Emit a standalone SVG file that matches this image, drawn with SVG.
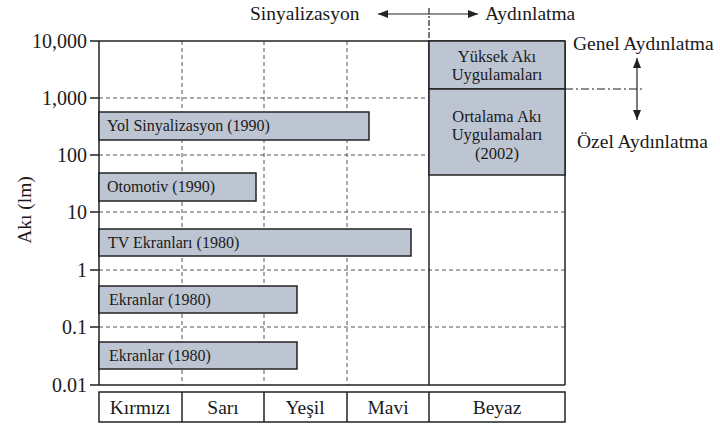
<svg xmlns="http://www.w3.org/2000/svg" width="720" height="427" viewBox="0 0 720 427" font-family="'Liberation Serif', 'DejaVu Serif', serif">
<defs>
<style>
text{font-family:'Liberation Serif','DejaVu Serif',serif;fill:#1a1a1a}
.big{font-size:19.5px}
.tick{font-size:20px;text-anchor:end}
.bar{fill:#bec5d2;stroke:#222;stroke-width:1.5}
.bt{font-size:16px}
.bx{font-size:16.5px;text-anchor:middle}
.grid{stroke:#555;stroke-width:1;stroke-dasharray:4 3;fill:none}
.solid{stroke:#222;stroke-width:1.5;fill:none}
.leg{font-size:19.5px;text-anchor:middle}
</style>
<marker id="ah" viewBox="0 0 10 8" refX="10" refY="4" markerWidth="10" markerHeight="8" markerUnits="userSpaceOnUse" orient="auto-start-reverse">
<path d="M0,0 L10,4 L0,8 Z" fill="#222"/>
</marker>
</defs>
<rect width="720" height="427" fill="#fff"/>

<g id="grid">
<line class="grid" x1="99" y1="98" x2="565" y2="98"/>
<line class="grid" x1="99" y1="155" x2="565" y2="155"/>
<line class="grid" x1="99" y1="212" x2="565" y2="212"/>
<line class="grid" x1="99" y1="270" x2="565" y2="270"/>
<line class="grid" x1="99" y1="327" x2="565" y2="327"/>
<line class="grid" x1="182" y1="41" x2="182" y2="385"/>
<line class="grid" x1="264" y1="41" x2="264" y2="385"/>
<line class="grid" x1="347" y1="41" x2="347" y2="385"/>
</g>

<g id="axes">
<line class="solid" x1="90" y1="41" x2="565" y2="41"/>
<line class="solid" x1="90" y1="385" x2="565" y2="385"/>
<line class="solid" x1="99" y1="41" x2="99" y2="385"/>
<line class="solid" x1="429" y1="41" x2="429" y2="385"/>
<line class="solid" x1="565" y1="41" x2="565" y2="385"/>
<line class="solid" x1="90" y1="98" x2="99" y2="98"/>
<line class="solid" x1="90" y1="155" x2="99" y2="155"/>
<line class="solid" x1="90" y1="212" x2="99" y2="212"/>
<line class="solid" x1="90" y1="270" x2="99" y2="270"/>
<line class="solid" x1="90" y1="327" x2="99" y2="327"/>
<text class="tick" x="87" y="48">10,000</text>
<text class="tick" x="87" y="105">1,000</text>
<text class="tick" x="87" y="162">100</text>
<text class="tick" x="87" y="219">10</text>
<text class="tick" x="87" y="277">1</text>
<text class="tick" x="87" y="334">0.1</text>
<text class="tick" x="87" y="392">0.01</text>
<text class="big" transform="translate(31,210) rotate(-90)" text-anchor="middle">Akı (lm)</text>
</g>

<g id="bar-yol">
<rect class="bar" x="99" y="112" width="270" height="28"/>
<text class="bt" x="107" y="131">Yol Sinyalizasyon (1990)</text>
</g>
<g id="bar-otomotiv">
<rect class="bar" x="99" y="173" width="157" height="28"/>
<text class="bt" x="107" y="192">Otomotiv (1990)</text>
</g>
<g id="bar-tv">
<rect class="bar" x="99" y="229" width="312" height="27"/>
<text class="bt" x="108" y="248">TV Ekranları (1980)</text>
</g>
<g id="bar-ekranlar1">
<rect class="bar" x="99" y="286" width="198" height="27"/>
<text class="bt" x="109" y="305">Ekranlar (1980)</text>
</g>
<g id="bar-ekranlar2">
<rect class="bar" x="99" y="342" width="198" height="27"/>
<text class="bt" x="109" y="361">Ekranlar (1980)</text>
</g>

<g id="box-yuksek">
<rect class="bar" x="429" y="41" width="136" height="48"/>
<text class="bx" x="497" y="62">Yüksek Akı</text>
<text class="bx" x="497" y="80">Uygulamaları</text>
</g>
<g id="box-ortalama">
<rect class="bar" x="429" y="89" width="136" height="86"/>
<text class="bx" x="497" y="122">Ortalama Akı</text>
<text class="bx" x="497" y="140">Uygulamaları</text>
<text class="bx" x="497" y="159">(2002)</text>
</g>

<g id="header">
<text class="big" x="250" y="20">Sinyalizasyon</text>
<text class="big" x="485" y="20">Aydınlatma</text>
<line x1="429" y1="8" x2="429" y2="41" stroke="#222" stroke-width="1.2" stroke-dasharray="6 2 2 2"/>
</g>

<g id="right-labels">
<text class="big" x="573" y="50">Genel Aydınlatma</text>
<text class="big" x="577" y="148">Özel Aydınlatma</text>
</g>

<g id="connectors">
<line x1="378" y1="14" x2="478" y2="14" stroke="#222" stroke-width="1.2" marker-start="url(#ah)" marker-end="url(#ah)"/>
<line x1="637" y1="58" x2="637" y2="120" stroke="#222" stroke-width="1.2" marker-start="url(#ah)" marker-end="url(#ah)"/>
<line x1="565" y1="89" x2="642" y2="89" stroke="#222" stroke-width="1.2" stroke-dasharray="8 3 2 3"/>
</g>

<g id="legend">
<rect class="solid" x="99" y="392" width="466" height="30" fill="#fff"/>
<line class="solid" x1="182" y1="392" x2="182" y2="422"/>
<line class="solid" x1="264" y1="392" x2="264" y2="422"/>
<line class="solid" x1="347" y1="392" x2="347" y2="422"/>
<line class="solid" x1="429" y1="392" x2="429" y2="422"/>
<text class="leg" x="140" y="414">Kırmızı</text>
<text class="leg" x="223" y="414">Sarı</text>
<text class="leg" x="305" y="414">Yeşil</text>
<text class="leg" x="388" y="414">Mavi</text>
<text class="leg" x="497" y="414">Beyaz</text>
</g>
</svg>
